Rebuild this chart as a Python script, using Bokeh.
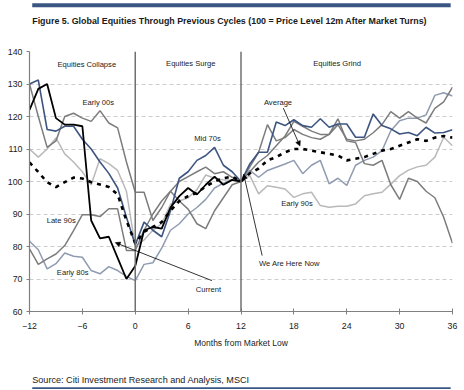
from bokeh.plotting import figure
from bokeh.layouts import column
from bokeh.models import Span, Label, Arrow, NormalHead, FixedTicker, Range1d
from bokeh.core.properties import value
from bokeh.embed import file_html
from bokeh.resources import INLINE

# ---------------- data ----------------
months = list(range(-12, 37))
current_months = list(range(-12, 13))

mid_70s = [130, 131.2, 116, 115.5, 117, 117, 113, 110, 106, 102.5, 98, 89, 80.5,
           87.5, 85, 83, 91, 101, 103, 106.5, 108, 110.5, 105, 103, 100,
           105.4, 109, 109, 118.3, 117.2, 119, 117.2, 116.7, 119.3, 116.7, 117.7, 117.7,
           113.6, 113.6, 120.8, 117.2, 116.2, 114.6, 115.1, 114.1, 116.7, 114.9, 115.1, 115.9]

early_00s = [130, 120, 110.5, 112.5, 120, 121, 119.5, 118.5, 121.8, 118, 116.5, 106, 96.7,
             96.7, 88, 92, 97, 94, 91.5, 87, 85.5, 91, 95, 99, 100,
             103, 106, 108, 111, 114, 118.5, 117, 115.5, 114.5, 114.5, 117.5, 113,
             112.5, 113, 115, 117.5, 121.5, 119.5, 121.5, 119.5, 118, 122.5, 124.5, 129]

late_90s = [79.3, 74.5, 76.2, 77.7, 80.3, 84.9, 89.8, 89.8, 89.2, 91.6, 91.6, 78.8, 78.8,
            85, 90, 94, 97, 100, 101.5, 103, 104.4, 102.4, 103, 101.3, 100,
            104.5, 109, 117.5, 112.5, 113.5, 116, 114.5, 113.5, 113, 114.5, 119.3, 112.5,
            112, 105.5, 105, 106.5, 99, 94.5, 101, 100, 97, 95, 89, 81]

early_80s = [81.6, 79, 73.1, 74.7, 78, 77, 76.7, 72.6, 71.6, 73.8, 72.6, 70.8, 69.5,
             74.5, 75, 79.5, 85, 87, 90, 92, 94.5, 98, 99.5, 100.5, 100,
             103.4, 101.3, 103.4, 104.4, 105.4, 106.5, 102.4, 105, 106.5, 99.3, 101, 98.8,
             105, 106.5, 107.5, 109.5, 115.6, 118.7, 119.5, 119.5, 120.5, 126.5, 127.3, 126.3]

early_90s = [110, 107.5, 110, 113.4, 108.5, 106, 103, 99, 107, 105.5, 103.4, 97, 80,
             82, 85, 87, 93, 94, 95, 97.5, 102, 101, 100.5, 100.5, 100,
             101.8, 96.2, 98.7, 98.2, 97.7, 95.1, 96.2, 96.7, 92.6, 92.1, 92.4, 92.4,
             93.1, 95.6, 96.2, 96.7, 99.2, 101.8, 103.5, 104.5, 105, 107.5, 113.6, 111]

average = [105.9, 102.9, 99.8, 98.3, 99.8, 101.2, 100.9, 99.8, 99.1, 98.3, 96, 88, 81,
           84.5, 86, 87.5, 91, 94, 95.5, 96.5, 98.5, 100, 101, 101.5, 100,
           102.5, 104, 106.5, 107.5, 109, 110, 110, 109.5, 109, 108.5, 108, 106.5,
           107, 107.5, 108.5, 109.5, 110, 111, 112, 113, 112.5, 113.5, 114, 113.5]

current = [122, 128.5, 130, 119.5, 117.5, 117.5, 117, 88, 82.5, 83, 76.5, 70, 74,
           85, 86, 85.5, 92, 95.5, 98, 96, 99, 101.5, 99, 100.5, 100]

x_ticks = [-12, -6, 0, 6, 12, 18, 24, 30, 36]
y_ticks = [60, 70, 80, 90, 100, 110, 120, 130, 140]
phase_bounds = [0, 12]

title_text = "Figure 5. Global Equities Through Previous Cycles (100 = Price Level 12m After Market Turns)"
source_text = "Source: Citi Investment Research and Analysis, MSCI"

FONT = "Liberation Sans"
TXT = "#1a1a1a"
RULE = "#3a5683"
W = 464

def blank_fig(h):
    f = figure(width=W, height=h, x_range=Range1d(0, W), y_range=Range1d(h, 0),
               x_axis_type=None, y_axis_type=None, output_backend="svg",
               toolbar_location=None, min_border=0)
    f.outline_line_color = None
    f.grid.visible = False
    f.background_fill_color = "white"
    f.border_fill_color = "white"
    return f

# ---------------- header ----------------
tf = blank_fig(32)
tf.quad(left=[3], right=[462], top=[2.7], bottom=[6.7], fill_color=RULE, line_color=None)
tf.text(x=[3], y=[20], text=[title_text], text_font=value(FONT), text_font_style="bold",
        text_font_size="8.9px", text_color=TXT, text_baseline="middle", text_align="left")

# ---------------- main chart ----------------
p = figure(width=W, height=324, x_range=Range1d(-12, 36), y_range=Range1d(60, 140),
           output_backend="svg", toolbar_location=None,
           min_border_left=29, min_border_right=12, min_border_top=19, min_border_bottom=45)
p.outline_line_color = None
p.background_fill_color = "white"
p.border_fill_color = "white"

p.xgrid.visible = False
p.ygrid.grid_line_color = "#cccccc"
p.ygrid.grid_line_dash = "4 3"
p.ygrid.grid_line_width = 1

p.xaxis.ticker = FixedTicker(ticks=x_ticks)
p.yaxis.ticker = FixedTicker(ticks=y_ticks)
for ax in (p.xaxis[0], p.yaxis[0]):
    ax.axis_line_color = "#808080"
    ax.axis_line_width = 1.2
    ax.major_tick_line_color = "#808080"
    ax.minor_tick_line_color = None
    ax.major_label_text_font = FONT
    ax.major_label_text_font_size = "8.8px"
    ax.major_label_text_color = TXT
p.xaxis.major_tick_in = 3
p.xaxis.major_tick_out = 3
p.xaxis.major_label_standoff = 8
p.yaxis.major_tick_in = 0
p.yaxis.major_tick_out = 3
p.yaxis.major_label_standoff = 4
p.xaxis.axis_label = "Months from Market Low"
p.xaxis.axis_label_text_font = FONT
p.xaxis.axis_label_text_font_size = "8.5px"
p.xaxis.axis_label_text_font_style = "normal"
p.xaxis.axis_label_text_color = TXT
p.xaxis.axis_label_standoff = 6

for b in phase_bounds:
    p.add_layout(Span(location=b, dimension="height", line_color="#707070", line_width=1.5))

DARK = "#7c7c7c"
LIGHT = "#b9b9b9"
BLUEGRAY = "#8f9bb0"
NAVY = "#3d5580"

p.line(months, early_80s, line_color=BLUEGRAY, line_width=1.5)
p.line(months, early_90s, line_color=LIGHT, line_width=1.5)
p.line(months, late_90s, line_color=DARK, line_width=1.5)
p.line(months, early_00s, line_color=DARK, line_width=1.5)
p.line(months, mid_70s, line_color=NAVY, line_width=1.6)
p.line(months, average, line_color="black", line_width=2.6, line_dash="4 5")
p.line(current_months, current, line_color="black", line_width=1.8)

def lab(x, y, t):
    p.add_layout(Label(x=x, y=y, text=t, text_font=FONT, text_font_size="7.6px",
                       text_color=TXT, text_align="center", text_baseline="middle"))

lab(-5.5, 136, "Equities Collapse")
lab(6.3, 136.3, "Equities Surge")
lab(22.9, 136.3, "Equities Grind")
lab(-4.2, 124.4, "Early 00s")
lab(8.2, 113.1, "Mid 70s")
lab(16.2, 124.2, "Average")
lab(-8.4, 88, "Late 90s")
lab(-7.1, 72.1, "Early 80s")
lab(18.35, 93.1, "Early 90s")
lab(8.3, 66.8, "Current")
lab(17.5, 74.8, "We Are Here Now")

def arrow(x0, y0, x1, y1):
    p.add_layout(Arrow(end=NormalHead(size=5, fill_color="black", line_color="black", line_width=0.5),
                       x_start=x0, y_start=y0, x_end=x1, y_end=y1,
                       line_color="black", line_width=0.8))

arrow(8.7, 69.5, -2.27, 81.2)
arrow(14.4, 77.2, 12.3, 102.3)
arrow(16.8, 122.6, 18.7, 110.9)

# ---------------- footer ----------------
bf = blank_fig(34)
bf.text(x=[3], y=[23], text=[source_text], text_font=value(FONT), text_font_size="9.1px",
        text_color=TXT, text_baseline="middle", text_align="left")
bf.quad(left=[3], right=[462], top=[30.8], bottom=[32.6], fill_color=RULE, line_color=None)

layout = column(tf, p, bf, spacing=0)
open("out.html", "w").write(file_html(layout, INLINE))
